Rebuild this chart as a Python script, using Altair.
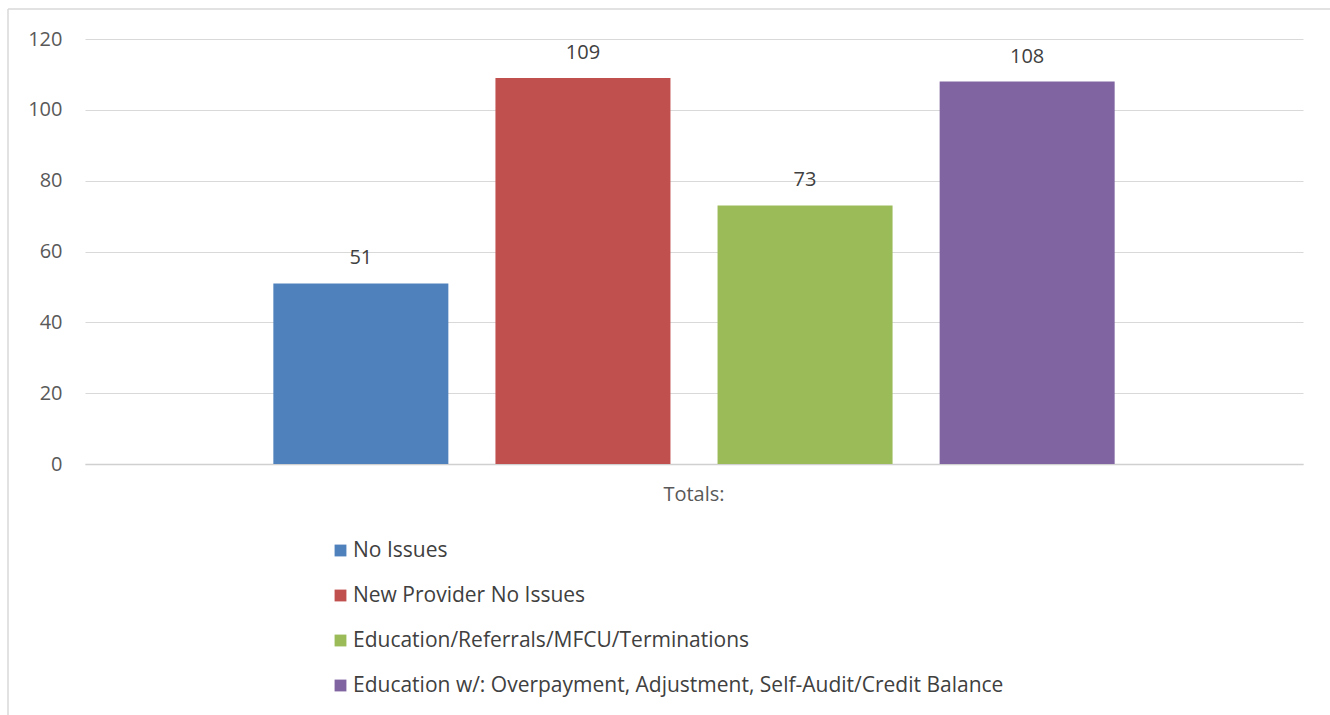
import altair as alt
import pandas as pd

series = ["No Issues", "New Provider No Issues", "Education/Referrals/MFCU/Terminations",
          "Education w/: Overpayment, Adjustment, Self-Audit/Credit Balance"]
values = [51, 109, 73, 108]
category = "Totals:"
colors = ["#4F81BD", "#C0504D", "#9BBB59", "#8064A2"]

df = pd.DataFrame({"cat": [category] * len(series), "series": series, "value": values})

FONT = "Open Sans"
FS = 21

x = alt.X("cat:N", title=None,
          scale=alt.Scale(paddingInner=0, paddingOuter=0),
          axis=alt.Axis(labelAngle=0, labelFontSize=FS - 1, labelColor="#595959", labelFont=FONT,
                        ticks=False, domain=True, domainColor="#d0d0d0", domainWidth=1.5,
                        labelPadding=20))
xo = alt.XOffset("series:N", sort=series,
                 scale=alt.Scale(paddingInner=0.212, paddingOuter=0.848))
y = alt.Y("value:Q", title=None,
          scale=alt.Scale(domain=[0, 120]),
          axis=alt.Axis(values=[0, 20, 40, 60, 80, 100, 120], ticks=False, domain=False,
                        gridColor="#d9d9d9", gridWidth=1.2, labelFontSize=FS - 1,
                        labelColor="#595959", labelFont=FONT, labelPadding=23))

bars = alt.Chart(df).mark_bar().encode(
    x=x, xOffset=xo, y=y,
    color=alt.Color("series:N", sort=series,
                    scale=alt.Scale(domain=series, range=colors),
                    legend=alt.Legend(title=None, orient="none", legendX=245, legendY=501,
                                      direction="vertical", columns=1,
                                      symbolType="square", symbolSize=140,
                                      symbolStrokeWidth=0, labelFontSize=FS,
                                      labelColor="#404040", labelFont=FONT,
                                      rowPadding=23, labelOffset=2, labelLimit=1000)),
)

labels = alt.Chart(df).mark_text(dy=-25, fontSize=FS - 1, color="#404040", font=FONT).encode(
    x=x, xOffset=xo, y=y, text=alt.Text("value:Q")
)

border = pd.DataFrame({"a": [0]})
left_line = alt.Chart(border).mark_rule(color="#d9d9d9", strokeWidth=1.5).encode(
    x=alt.value(-77), y=alt.value(-30), y2=alt.value(700))
top_line = alt.Chart(border).mark_rule(color="#d9d9d9", strokeWidth=1.5).encode(
    x=alt.value(-77), x2=alt.value(1260), y=alt.value(-30))

chart = alt.layer(bars, labels, left_line, top_line).properties(
    width=1218, height=425,
    autosize=alt.AutoSizeParams(type="none"),
    padding={"left": 85, "top": 39, "right": 27, "bottom": 251},
    background="white",
).configure_view(stroke=None)

chart.save("out.html", embed_options={"renderer": "svg", "actions": False})
